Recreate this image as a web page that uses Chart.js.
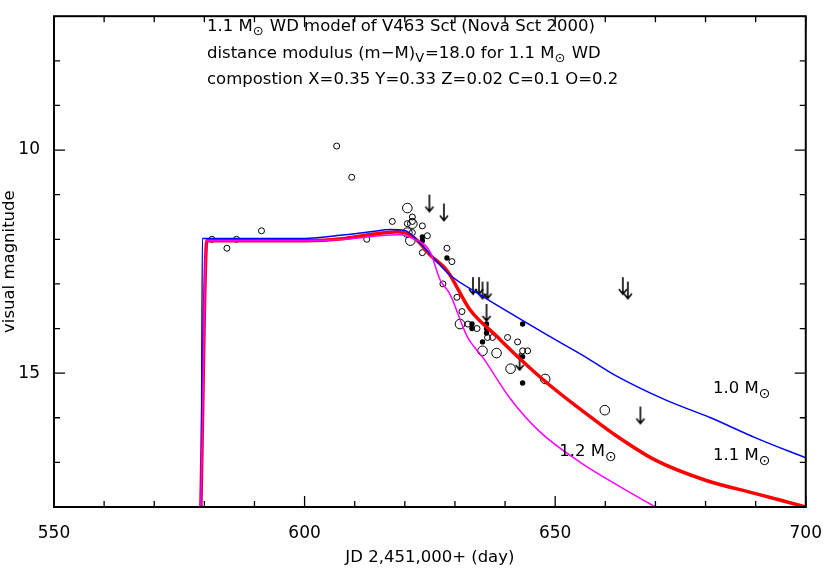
<!DOCTYPE html>
<html>
<head>
<meta charset="utf-8">
<script src="https://cdn.jsdelivr.net/npm/chart.js@4"></script>
<style>
  html, body { margin: 0; padding: 0; background: #fff; }
  #wrap { width: 830px; height: 572px; }
</style>
</head>
<body>
<div id="wrap"><canvas id="lc"></canvas></div>
<script>
// model light curves (JD - 2451000, visual magnitude)
const m10x = [579.4, 579.6, 590, 600, 608, 614, 617, 620, 622.7, 626, 629, 634.4, 641.7, 648.8, 655.5, 662, 672, 681, 690, 700];
const m10y = [18.0, 11.98, 11.98, 11.98, 11.9, 11.82, 11.78, 11.8, 12.05, 12.45, 12.8, 13.2, 13.7, 14.17, 14.6, 15.05, 15.6, 16.0, 16.45, 16.9];
const m11x = [579.3, 580.5, 590, 600, 608, 614, 618.5, 620.5, 622.7, 625, 628.4, 633, 638.3, 642.9, 648.8, 655.5, 661.5, 670, 680, 690, 700];
const m11y = [18.0, 12.03, 12.03, 12.03, 11.98, 11.88, 11.83, 11.87, 12.05, 12.35, 12.7, 13.58, 14.17, 14.67, 15.26, 15.85, 16.35, 16.95, 17.4, 17.7, 18.0];
const m12x = [579.3, 580.5, 590, 600, 608, 614, 619, 621.5, 625, 627, 629, 632.4, 635.7, 640.9, 646.8, 655, 663, 670];
const m12y = [18.0, 12.03, 12.03, 12.03, 12.0, 11.93, 11.9, 11.98, 12.27, 12.9, 13.23, 14.17, 14.67, 15.55, 16.3, 17.0, 17.55, 18.0];

// observations
const smallX = [606.4, 609.4, 581.5, 584.5, 586.4, 591.4, 612.4, 617.5, 621.5, 621.5, 620.5, 621.5, 623.5, 624.5, 623.5, 628.4, 629.4, 627.6, 630.4, 631.4, 632.6, 634.4, 636.5, 637.5, 640.5, 642.5, 643.5, 644.5];
const smallY = [9.91, 10.61, 12.0, 12.2, 12.0, 11.81, 12.0, 11.6, 11.5, 11.6, 11.65, 11.85, 11.7, 11.92, 12.3, 12.2, 12.5, 13.0, 13.3, 13.62, 13.9, 14.0, 14.2, 14.2, 14.2, 14.3, 14.5, 14.5];
const largeX = [620.5, 621.1, 620.5, 621.5, 631.0, 635.5, 638.3, 641.1, 648.0, 659.9];
const largeY = [11.3, 12.03, 11.85, 11.65, 13.9, 14.5, 14.55, 14.9, 15.13, 15.83];
const filledX = [623.5, 623.5, 628.4, 633.4, 633.4, 636.3, 636.3, 636.3, 635.5, 643.5, 643.5, 643.5];
const filledY = [11.95, 12.03, 12.42, 13.9, 14.0, 13.9, 14.0, 14.1, 14.3, 13.9, 14.63, 15.22];
const upperX = [624.9, 627.8, 633.6, 634.8, 635.5, 636.5, 636.3, 642.9, 663.5, 664.5, 667.0];
const upperY = [11.2, 11.4, 13.05, 13.05, 13.15, 13.15, 13.65, 14.75, 13.05, 13.15, 15.95];

const xTicks = [550, 600, 650, 700];
const yTicks = [10, 15];
const titleLines = [
  [['1.1 M', 0], ['⊙', 1], [' WD model of V463 Sct (Nova Sct 2000)', 0]],
  [['distance modulus (m\u2212M)', 0], ['V', 1], ['=18.0 for 1.1 M', 0], ['⊙', 1], [' WD', 0]],
  [['compostion X=0.35 Y=0.33 Z=0.02 C=0.1 O=0.2', 0]]
];
const curveLabels = [
  { x: 681.5, y: 15.45, m: '1.0' },
  { x: 681.5, y: 16.95, m: '1.1' },
  { x: 650.8, y: 16.85, m: '1.2' }
];

const pts = (xs, ys) => xs.map((x, i) => ({ x: x, y: ys[i] }));

// downward arrow marker for upper limits
const arrow = document.createElement('canvas');
arrow.width = 12; arrow.height = 20;
(function () {
  const c = arrow.getContext('2d');
  c.strokeStyle = '#000'; c.lineWidth = 1.6;
  c.beginPath();
  c.moveTo(6, 1); c.lineTo(6, 18);
  c.moveTo(2, 13); c.lineTo(6, 18); c.lineTo(10, 13);
  c.stroke();
})();

const FONT = "'DejaVu Sans', sans-serif";

const frame = {
  id: 'frame',
  afterDraw(chart) {
    const { ctx, chartArea: a, scales: { x, y } } = chart;
    ctx.save();
    ctx.strokeStyle = '#000';
    ctx.lineWidth = 2;
    ctx.strokeRect(a.left, a.top, a.right - a.left, a.bottom - a.top);
    ctx.lineWidth = 1.3;
    ctx.beginPath();
    for (let v = 550; v <= 700; v += 10) {
      const p = x.getPixelForValue(v);
      const len = v % 50 === 0 ? 11 : 6;
      ctx.moveTo(p, a.bottom); ctx.lineTo(p, a.bottom - len);
      ctx.moveTo(p, a.top); ctx.lineTo(p, a.top + len);
    }
    for (let v = 8; v <= 17; v += 1) {
      const p = y.getPixelForValue(v);
      const len = v % 5 === 0 ? 11 : 6;
      ctx.moveTo(a.left, p); ctx.lineTo(a.left + len, p);
      ctx.moveTo(a.right, p); ctx.lineTo(a.right - len, p);
    }
    ctx.stroke();

    // title block
    ctx.fillStyle = '#000';
    ctx.textBaseline = 'alphabetic';
    titleLines.forEach((line, i) => {
      let px = 207;
      const py = 31 + i * 26.5;
      line.forEach(([t, sub]) => {
        ctx.font = (sub ? '13px ' : '16.5px ') + FONT;
        ctx.fillText(t, px, py + (sub ? 4 : 0));
        px += ctx.measureText(t).width + (sub ? 1 : 0);
      });
    });

    // curve labels
    curveLabels.forEach(l => {
      let px = x.getPixelForValue(l.x);
      const py = y.getPixelForValue(l.y);
      ctx.font = '16.5px ' + FONT;
      const t = l.m + ' M';
      ctx.fillText(t, px, py);
      px += ctx.measureText(t).width;
      ctx.font = '14px ' + FONT;
      ctx.fillText('⊙', px, py + 5);
    });
    ctx.restore();
  }
};

const lineDs = (xs, ys, color, w) => ({
  data: pts(xs, ys), showLine: true, borderColor: color, borderWidth: w,
  pointRadius: 0, cubicInterpolationMode: 'monotone'
});

new Chart(document.getElementById('lc'), {
  type: 'scatter',
  data: {
    datasets: [
      lineDs(m12x, m12y, '#ff00ff', 1.5),
      lineDs(m10x, m10y, '#0000ff', 1.5),
      lineDs(m11x, m11y, '#ff0000', 3.5),
      { data: pts(smallX, smallY), pointStyle: 'circle', pointRadius: 3, borderColor: '#000', borderWidth: 1, backgroundColor: 'rgba(0,0,0,0)' },
      { data: pts(largeX, largeY), pointStyle: 'circle', pointRadius: 4.8, borderColor: '#000', borderWidth: 1, backgroundColor: 'rgba(0,0,0,0)' },
      { data: pts(filledX, filledY), pointStyle: 'circle', pointRadius: 2.7, borderColor: '#000', borderWidth: 0, backgroundColor: '#000' },
      { data: pts(upperX, upperY), pointStyle: arrow }
    ]
  },
  options: {
    responsive: true,
    maintainAspectRatio: false,
    animation: false,
    layout: { padding: { top: -14, right: 17, left: 0, bottom: 0 } },
    plugins: { legend: { display: false }, tooltip: { enabled: false } },
    scales: {
      x: {
        type: 'linear', min: 550, max: 700,
        grid: { display: false }, border: { display: false },
        afterBuildTicks: s => { s.ticks = xTicks.map(v => ({ value: v })); },
        ticks: { color: '#000', font: { family: FONT, size: 17 }, padding: 8, maxRotation: 0 },
        title: { display: true, text: 'JD 2,451,000+ (day)', color: '#000', font: { family: FONT, size: 16.5 }, padding: { top: 14 } },
        afterFit: s => { s.height = 65; }
      },
      y: {
        type: 'linear', min: 7, max: 18, reverse: true,
        grid: { display: false }, border: { display: false },
        afterBuildTicks: s => { s.ticks = yTicks.map(v => ({ value: v })); },
        ticks: { color: '#000', font: { family: FONT, size: 17 }, padding: 6 },
        title: { display: true, text: 'visual magnitude', color: '#000', font: { family: FONT, size: 16.5 }, padding: 0 },
        afterFit: s => { s.width = 54; }
      }
    }
  },
  plugins: [frame]
});
</script>
</body>
</html>
